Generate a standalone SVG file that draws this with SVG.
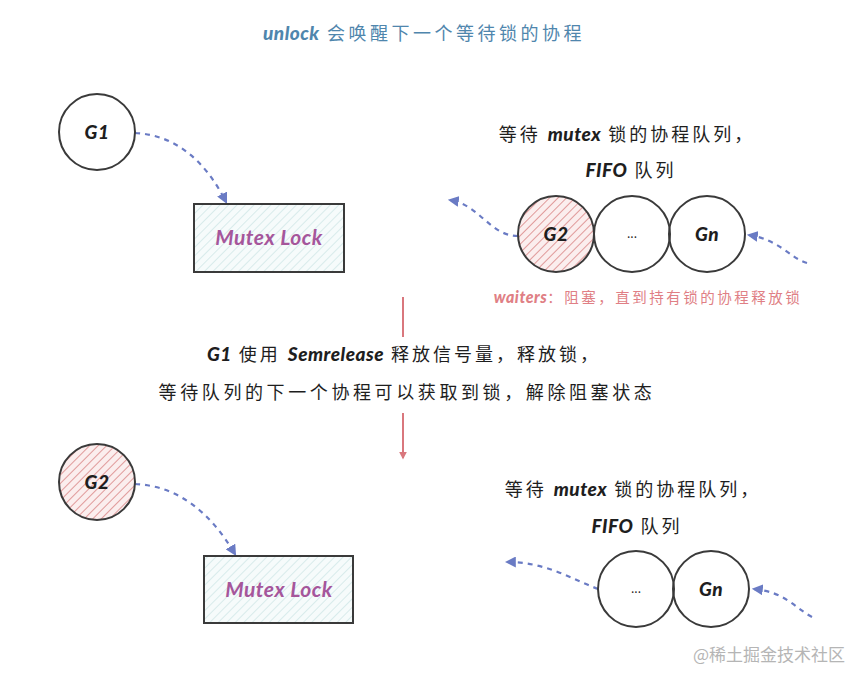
<svg xmlns="http://www.w3.org/2000/svg" width="865" height="684" viewBox="0 0 865 684">
<defs>
<pattern id="hatchRed" patternUnits="userSpaceOnUse" width="6" height="6" patternTransform="rotate(45)">
<rect width="6" height="6" fill="#fbeeee"/>
<line x1="0" y1="0" x2="0" y2="6" stroke="#e09a9a" stroke-width="2"/>
</pattern>
<pattern id="hatchTeal" patternUnits="userSpaceOnUse" width="6" height="6" patternTransform="rotate(45)">
<rect width="6" height="6" fill="#f6fbfb"/>
<line x1="0" y1="0" x2="0" y2="6" stroke="#cfe6e6" stroke-width="1.5"/>
</pattern>
<marker id="blueHead" viewBox="0 0 10 10" refX="8" refY="5" markerWidth="5" markerHeight="5" orient="auto-start-reverse">
<path d="M0,0 L10,5 L0,10 z" fill="#6a7bc4"/>
</marker>
<marker id="redHead" viewBox="0 0 10 10" refX="8" refY="5" markerWidth="4" markerHeight="4" orient="auto">
<path d="M0,0 L10,5 L0,10 z" fill="#d9777d"/>
</marker>
</defs>
<style>
.cjk{font-family:"Noto Sans CJK SC","Noto Sans",sans-serif;}
.lat{font-family:"Lato","Noto Sans","Noto Sans CJK SC",sans-serif;font-weight:900;font-style:italic;letter-spacing:0.5px;}
.node{fill:none;stroke:#3a3a3a;stroke-width:2;}
.dash{fill:none;stroke:#6a7bc4;stroke-width:2.2;stroke-dasharray:5 5;}
.red{fill:none;stroke:#d9777d;stroke-width:2;}
.lbl{font-size:18px;fill:#1e1e1e;}
.big{font-size:19px;}
.mtx{font-size:21px;fill:#a5569b;font-weight:bold;}
</style>
<rect width="865" height="684" fill="#ffffff"/>

<text class="cjk" x="424" y="40" text-anchor="middle" font-size="18" fill="#4f86ad" letter-spacing="3.5"><tspan class="lat" font-size="19">unlock</tspan> 会唤醒下一个等待锁的协程</text>

<g id="connectors">
<path class="dash" d="M135,133 C175,135 205,160 226,202" marker-end="url(#blueHead)"/>
<path class="dash" d="M518,236 C490,236 480,205 450,200" marker-end="url(#blueHead)"/>
<path class="dash" d="M807,263 C790,258 780,240 749,235" marker-end="url(#blueHead)"/>
<path class="red" d="M403,297 L403,337"/>
<path class="red" d="M403,413 L403,458" marker-end="url(#redHead)"/>
<path class="dash" d="M135,484 C178,486 210,512 235,554" marker-end="url(#blueHead)"/>
<path class="dash" d="M598,589 C570,578 545,562 507,562" marker-end="url(#blueHead)"/>
<path class="dash" d="M812,617 C795,608 785,592 754,589" marker-end="url(#blueHead)"/>
</g>

<g id="g1">
<circle class="node" cx="97" cy="132" r="38" fill="#ffffff"/>
<text class="lat lbl big" x="97" y="139" text-anchor="middle">G1</text>
</g>
<g id="mutex1">
<rect x="194" y="204" width="150" height="68" fill="url(#hatchTeal)" stroke="#3a3a3a" stroke-width="2"/>
<text class="lat mtx" x="269" y="245" text-anchor="middle">Mutex Lock</text>
</g>

<g id="queue1-title">
<text class="cjk lbl" x="627" y="141" text-anchor="middle" letter-spacing="3">等待 <tspan class="lat big">mutex</tspan> 锁的协程队列，</text>
<text class="cjk lbl" x="631" y="177" text-anchor="middle" letter-spacing="3"><tspan class="lat big">FIFO</tspan> 队列</text>
</g>
<g id="q1-g2">
<circle cx="556" cy="234" r="38" fill="url(#hatchRed)" stroke="#3a3a3a" stroke-width="2"/>
<text class="lat lbl big" x="556" y="241" text-anchor="middle">G2</text>
</g>
<g id="q1-dots">
<circle class="node" cx="632" cy="234" r="38"/>
<text class="cjk" x="632" y="238" text-anchor="middle" font-size="12" fill="#1e1e1e">...</text>
</g>
<g id="q1-gn">
<circle class="node" cx="707" cy="234" r="38"/>
<text class="lat lbl big" x="707" y="241" text-anchor="middle">Gn</text>
</g>
<text class="cjk" x="648" y="303" text-anchor="middle" font-size="14.5" fill="#e07f85" letter-spacing="2.5"><tspan class="lat" font-size="16">waiters</tspan>：阻塞，直到持有锁的协程释放锁</text>

<g id="middle-text">
<text class="cjk lbl" x="404" y="361" text-anchor="middle" letter-spacing="3"><tspan class="lat big">G1</tspan> 使用 <tspan class="lat big">Semrelease</tspan> 释放信号量，释放锁，</text>
<text class="cjk lbl" x="407" y="399" text-anchor="middle" letter-spacing="3.6">等待队列的下一个协程可以获取到锁，解除阻塞状态</text>
</g>

<g id="g2">
<circle cx="97" cy="482" r="38" fill="url(#hatchRed)" stroke="#3a3a3a" stroke-width="2"/>
<text class="lat lbl big" x="97" y="489" text-anchor="middle">G2</text>
</g>
<g id="mutex2">
<rect x="204" y="556" width="149" height="67" fill="url(#hatchTeal)" stroke="#3a3a3a" stroke-width="2"/>
<text class="lat mtx" x="279" y="597" text-anchor="middle">Mutex Lock</text>
</g>

<g id="queue2-title">
<text class="cjk lbl" x="633" y="496" text-anchor="middle" letter-spacing="3">等待 <tspan class="lat big">mutex</tspan> 锁的协程队列，</text>
<text class="cjk lbl" x="637" y="533" text-anchor="middle" letter-spacing="3"><tspan class="lat big">FIFO</tspan> 队列</text>
</g>
<g id="q2-dots">
<circle class="node" cx="636" cy="589" r="38"/>
<text class="cjk" x="636" y="593" text-anchor="middle" font-size="12" fill="#1e1e1e">...</text>
</g>
<g id="q2-gn">
<circle class="node" cx="711" cy="589" r="38"/>
<text class="lat lbl big" x="711" y="596" text-anchor="middle">Gn</text>
</g>

<text class="cjk" x="845" y="661" text-anchor="end" font-size="17" fill="#b5b5b5">@稀土掘金技术社区</text>
</svg>
